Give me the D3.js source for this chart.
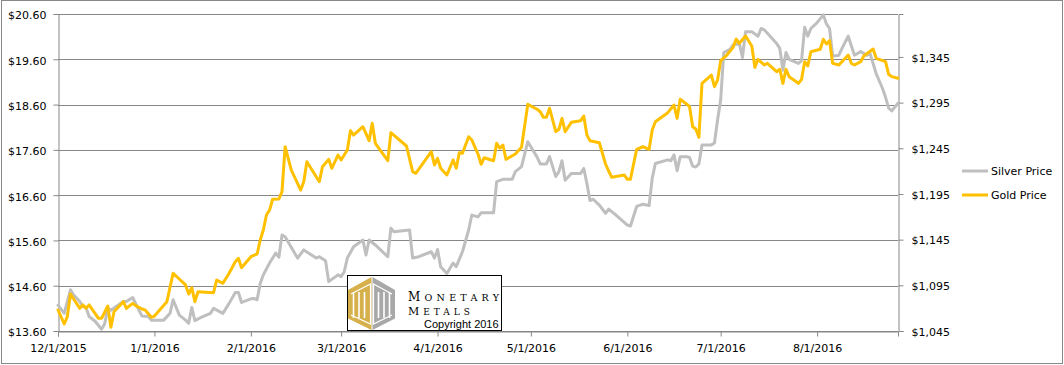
<!DOCTYPE html>
<html>
<head>
<meta charset="utf-8">
<script src="https://cdn.jsdelivr.net/npm/d3@7"></script>
<style>
  html, body { margin: 0; padding: 0; background: #fff; }
  svg { display: block; }
  text { font-family: "DejaVu Sans", Verdana, sans-serif; font-size: 11px; fill: #000; }
</style>
</head>
<body>
<svg id="chart" width="1064" height="365"></svg>
<script>
// ---------------- DATA ----------------
const silverDates = ["2015-12-01","2015-12-03","2015-12-05","2015-12-06","2015-12-08","2015-12-09","2015-12-10","2015-12-11","2015-12-13","2015-12-15","2015-12-16","2015-12-17","2015-12-18","2015-12-22","2015-12-23","2015-12-25","2015-12-26","2015-12-28","2015-12-30","2015-12-31",
"2016-01-04","2016-01-06","2016-01-07","2016-01-09","2016-01-11","2016-01-12","2016-01-13","2016-01-14","2016-01-16","2016-01-19","2016-01-20","2016-01-23","2016-01-25","2016-01-27","2016-01-28","2016-01-29",
"2016-02-01","2016-02-02","2016-02-03","2016-02-04","2016-02-05","2016-02-07","2016-02-09","2016-02-10","2016-02-11","2016-02-12","2016-02-16","2016-02-18","2016-02-22","2016-02-23","2016-02-25","2016-02-26","2016-02-29",
"2016-03-01","2016-03-02","2016-03-03","2016-03-05","2016-03-08","2016-03-09","2016-03-10","2016-03-12","2016-03-16","2016-03-17","2016-03-18","2016-03-23","2016-03-24","2016-03-26","2016-03-30","2016-03-31",
"2016-04-01","2016-04-02","2016-04-04","2016-04-06","2016-04-07","2016-04-09","2016-04-11","2016-04-12","2016-04-14","2016-04-15","2016-04-19","2016-04-20","2016-04-22","2016-04-25","2016-04-26","2016-04-28","2016-04-30",
"2016-05-03","2016-05-04","2016-05-06","2016-05-07","2016-05-09","2016-05-10","2016-05-11","2016-05-12","2016-05-14","2016-05-17","2016-05-18","2016-05-19","2016-05-20","2016-05-21","2016-05-23","2016-05-25","2016-05-26","2016-05-28",
"2016-06-01","2016-06-02","2016-06-04","2016-06-06","2016-06-08","2016-06-09","2016-06-10","2016-06-14","2016-06-15","2016-06-16","2016-06-17","2016-06-18","2016-06-20","2016-06-21","2016-06-22","2016-06-23","2016-06-24","2016-06-25","2016-06-28","2016-06-29","2016-06-30",
"2016-07-01","2016-07-02","2016-07-04","2016-07-05","2016-07-07","2016-07-08","2016-07-09","2016-07-11","2016-07-13","2016-07-14","2016-07-15","2016-07-19","2016-07-20","2016-07-21","2016-07-22","2016-07-23","2016-07-26","2016-07-27","2016-07-28","2016-07-29","2016-07-30",
"2016-08-01","2016-08-03","2016-08-04","2016-08-05","2016-08-06","2016-08-08","2016-08-09","2016-08-11","2016-08-13","2016-08-15","2016-08-17","2016-08-18","2016-08-20","2016-08-22","2016-08-23","2016-08-24","2016-08-25","2016-08-27"];
const silverPrices = [14.17,13.99,14.51,14.40,14.25,14.14,14.12,13.92,13.81,13.64,13.76,14.10,14.06,14.25,14.25,14.34,14.20,13.93,13.92,13.84,
13.84,13.99,14.29,13.95,13.84,13.77,14.12,13.83,13.90,13.99,14.10,13.99,14.21,14.45,14.45,14.23,
14.31,14.32,14.29,14.65,14.84,15.10,15.32,15.23,15.72,15.68,15.21,15.39,15.21,15.24,15.15,14.69,14.84,
14.80,14.91,15.21,15.46,15.61,15.28,15.61,15.50,15.24,15.87,15.79,15.83,15.21,15.24,15.35,15.21,
15.40,15.02,14.87,15.10,15.02,15.35,15.83,16.16,16.12,16.21,16.21,16.90,16.95,16.95,17.12,17.23,17.78,
17.44,17.29,17.29,17.45,17.01,17.12,17.36,16.93,17.08,17.08,17.19,16.86,16.48,16.51,16.38,16.20,16.29,16.18,
15.94,15.92,16.35,16.40,16.37,16.97,17.30,17.38,17.36,17.49,17.14,17.45,17.45,17.43,17.24,17.22,17.29,17.71,17.71,17.75,18.26,
18.70,19.75,19.82,19.92,19.95,19.64,20.21,20.21,20.11,20.28,20.25,19.95,19.84,19.36,19.75,19.60,19.51,19.57,20.31,20.11,20.28,
20.41,20.58,20.38,20.28,19.67,19.69,19.84,20.11,19.69,19.77,19.69,19.73,19.28,18.96,18.76,18.52,18.46,18.63];

const goldDates = ["2015-12-01","2015-12-03","2015-12-04","2015-12-05","2015-12-08","2015-12-09","2015-12-10","2015-12-11","2015-12-14","2015-12-15","2015-12-17","2015-12-18","2015-12-19","2015-12-22","2015-12-23","2015-12-25","2015-12-26","2015-12-28","2015-12-29","2015-12-31",
"2016-01-01","2016-01-05","2016-01-07","2016-01-11","2016-01-12","2016-01-13","2016-01-14","2016-01-15","2016-01-20","2016-01-21","2016-01-23","2016-01-25","2016-01-27","2016-01-28","2016-01-29",
"2016-02-01","2016-02-03","2016-02-04","2016-02-05","2016-02-06","2016-02-07","2016-02-08","2016-02-10","2016-02-11","2016-02-12","2016-02-14","2016-02-17","2016-02-18","2016-02-19","2016-02-23","2016-02-24","2016-02-26","2016-02-27","2016-02-29",
"2016-03-01","2016-03-03","2016-03-04","2016-03-05","2016-03-08","2016-03-10","2016-03-11","2016-03-12","2016-03-16","2016-03-17","2016-03-22","2016-03-24","2016-03-25","2016-03-30","2016-03-31",
"2016-04-01","2016-04-02","2016-04-04","2016-04-06","2016-04-07","2016-04-08","2016-04-09","2016-04-11","2016-04-12","2016-04-14","2016-04-15","2016-04-16","2016-04-19","2016-04-20","2016-04-21","2016-04-22","2016-04-23","2016-04-26","2016-04-28","2016-04-30",
"2016-05-03","2016-05-04","2016-05-05","2016-05-06","2016-05-07","2016-05-09","2016-05-10","2016-05-11","2016-05-12","2016-05-14","2016-05-17","2016-05-18","2016-05-19","2016-05-20","2016-05-23","2016-05-25","2016-05-26","2016-05-27","2016-05-31",
"2016-06-01","2016-06-02","2016-06-04","2016-06-06","2016-06-08","2016-06-09","2016-06-10","2016-06-14","2016-06-16","2016-06-17","2016-06-18","2016-06-20","2016-06-21","2016-06-22","2016-06-23","2016-06-24","2016-06-25","2016-06-28","2016-06-29","2016-06-30",
"2016-07-01","2016-07-03","2016-07-05","2016-07-06","2016-07-07","2016-07-09","2016-07-11","2016-07-12","2016-07-13","2016-07-15","2016-07-16","2016-07-19","2016-07-20","2016-07-21","2016-07-22","2016-07-23","2016-07-26","2016-07-27","2016-07-28","2016-07-29","2016-07-30",
"2016-08-02","2016-08-03","2016-08-04","2016-08-05","2016-08-06","2016-08-08","2016-08-11","2016-08-12","2016-08-13","2016-08-15","2016-08-16","2016-08-19","2016-08-20","2016-08-23","2016-08-24","2016-08-25","2016-08-27"];
const goldPrices = [1068.0,1052.7,1060.7,1085.5,1069.8,1073.5,1069.8,1073.5,1058.9,1058.9,1072.4,1049.1,1066.1,1077.1,1069.8,1075.3,1072.7,1069.1,1068.0,1060.0,
1061.4,1077.1,1108.2,1095.4,1085.5,1092.4,1077.1,1088.0,1086.9,1100.8,1097.2,1108.2,1120.9,1124.6,1114.3,
1126.3,1129.3,1144.6,1155.6,1172.0,1177.4,1189.2,1189.5,1197.5,1246.7,1221.2,1199.3,1208.4,1230.3,1208.4,1224.8,1232.9,1223.1,1237.6,
1232.2,1243.1,1264.2,1259.5,1268.6,1253.3,1272.4,1250.5,1231.4,1262.1,1247.5,1219.4,1217.6,1241.3,1226.7,
1234.0,1223.1,1215.8,1232.2,1223.1,1240.2,1239.5,1257.7,1254.1,1238.7,1227.5,1234.7,1231.4,1250.5,1245.0,1248.6,1232.9,1238.7,1246.1,1293.1,
1287.7,1285.0,1278.9,1278.9,1288.8,1263.2,1265.8,1277.8,1263.2,1273.4,1275.2,1280.3,1259.5,1253.3,1251.1,1227.8,1220.1,1213.2,1215.8,
1211.1,1211.1,1243.9,1246.7,1243.9,1265.0,1274.1,1284.0,1292.4,1277.8,1298.6,1293.5,1290.5,1268.6,1266.1,1257.0,1316.1,1325.2,1312.4,1319.7,
1340.9,1347.1,1355.5,1364.6,1359.9,1367.9,1357.0,1333.6,1342.4,1336.2,1338.0,1328.8,1331.5,1316.1,1331.5,1323.4,1316.1,1320.5,1339.8,1335.1,1350.7,
1353.4,1364.3,1359.2,1362.8,1338.0,1336.2,1347.1,1338.0,1336.2,1339.8,1346.0,1353.7,1343.5,1339.8,1326.0,1323.4,1321.6];

const leftTicks = [13.6,14.6,15.6,16.6,17.6,18.6,19.6,20.6];
const rightTicks = [1045,1095,1145,1195,1245,1295,1345];
const monthTicks = ["2015-12-01","2016-01-01","2016-02-01","2016-03-01","2016-04-01","2016-05-01","2016-06-01","2016-07-01","2016-08-01"];
const seriesNames = ["Silver Price","Gold Price"];

// ---------------- CHART ----------------
const svg = d3.select("#chart");
const parse = d3.utcParse("%Y-%m-%d");
const L = 58, R = 898, T = 14, B = 331;

const x = d3.scaleUtc().domain([parse("2015-12-01"), parse("2016-08-27")]).range([L, R]);
const yL = d3.scaleLinear().domain([13.6, 20.6]).range([B, T]);
const yR = d3.scaleLinear().domain([1045, 1392]).range([B, T]);

const gridColor = "#878787";
const silverColor = "#BFBFBF";
const goldColor = "#FFC000";

// outer border
svg.append("rect").attr("x", 1.5).attr("y", 0.5).attr("width", 1061).attr("height", 363)
  .attr("fill", "#fff").attr("stroke", "#888").attr("stroke-width", 1);

// gridlines
svg.append("g").selectAll("line").data(leftTicks).join("line")
  .attr("x1", L).attr("x2", R)
  .attr("y1", d => Math.round(yL(d)) + 0.5).attr("y2", d => Math.round(yL(d)) + 0.5)
  .attr("stroke", gridColor).attr("stroke-width", 1);

// axes
const fmtL = d => "$" + d.toFixed(2);
const fmtR = d => "$" + d3.format(",")(d);

const gL = svg.append("g").attr("transform", `translate(${L + 0.5},0)`)
  .call(d3.axisLeft(yL).tickValues(leftTicks).tickFormat(fmtL).tickSize(5).tickPadding(7));
const gR = svg.append("g").attr("transform", `translate(${R + 0.5},0)`)
  .call(d3.axisRight(yR).tickValues(rightTicks).tickFormat(fmtR).tickSize(5).tickPadding(8));
const gX = svg.append("g").attr("transform", `translate(0,${B + 0.5})`)
  .call(d3.axisBottom(x).tickValues(monthTicks.map(parse)).tickFormat(d3.utcFormat("%-m/%-d/%Y")).tickSize(5).tickPadding(8));

[gL, gR, gX].forEach(g => {
  g.select(".domain").attr("stroke", gridColor);
  g.selectAll(".tick line").attr("stroke", gridColor);
  g.selectAll(".tick text").style("font-family", '"DejaVu Sans", Verdana, sans-serif').style("font-size", "11px").attr("fill", "#000");
});
gL.selectAll(".tick text").attr("dy", "0.45em");
gR.selectAll(".tick text").attr("dy", "0.38em");

// lines
const silverData = silverDates.map((d, i) => ({ date: parse(d), v: silverPrices[i] }));
const goldData = goldDates.map((d, i) => ({ date: parse(d), v: goldPrices[i] }));

svg.append("path").datum(silverData)
  .attr("fill", "none").attr("stroke", silverColor).attr("stroke-width", 3)
  .attr("stroke-linejoin", "round").attr("stroke-linecap", "round")
  .attr("d", d3.line().x(d => x(d.date)).y(d => yL(d.v)));

svg.append("path").datum(goldData)
  .attr("fill", "none").attr("stroke", goldColor).attr("stroke-width", 3)
  .attr("stroke-linejoin", "round").attr("stroke-linecap", "round")
  .attr("d", d3.line().x(d => x(d.date)).y(d => yR(d.v)));

// legend
const legend = svg.append("g");
[silverColor, goldColor].forEach((c, i) => {
  const yy = 171 + i * 24;
  legend.append("line").attr("x1", 962).attr("x2", 988).attr("y1", yy).attr("y2", yy)
    .attr("stroke", c).attr("stroke-width", 3);
  legend.append("text").attr("x", 991).attr("y", yy).attr("dy", "0.36em").text(seriesNames[i]);
});

// logo
const logo = svg.append("g");
logo.append("rect").attr("x", 347.5).attr("y", 275.5).attr("width", 154).attr("height", 55)
  .attr("fill", "#fff").attr("stroke", "#000").attr("stroke-width", 1);
const cx = 371.5;
logo.append("polygon").attr("points", `${cx},277 348,290 348,318.5 ${cx},330`).attr("fill", "#D6B04A");
logo.append("polygon").attr("points", `${cx+1},277 395,290 395,318.5 ${cx+1},330`).attr("fill", "#A8A8A8");
[353.5, 359, 364.5, 378.5, 384, 389.5].forEach(bx => {
  logo.append("line").attr("x1", bx).attr("x2", bx).attr("y1", 292).attr("y2", 318)
    .attr("stroke", "#fff").attr("stroke-width", 1.6);
});
logo.append("polyline").attr("points", `351,294 ${cx-1},284 ${cx-1},324 351,315`).attr("fill", "none").attr("stroke", "#fff").attr("stroke-width", 1.2);
logo.append("polyline").attr("points", `392,294 ${cx+2},284 ${cx+2},324 392,315`).attr("fill", "none").attr("stroke", "#fff").attr("stroke-width", 1.2);

logo.append("text").attr("x", 408).attr("y", 301)
  .attr("textLength", 91).attr("lengthAdjust", "spacing")
  .style("font-family", '"DejaVu Serif", "Liberation Serif", serif').style("font-size", "12px")
  .attr("fill", "#D4AA3C")
  .html('M<tspan style="font-size:9.5px">ONETARY</tspan>');
logo.append("text").attr("x", 408).attr("y", 314.5)
  .attr("textLength", 62).attr("lengthAdjust", "spacing")
  .style("font-family", '"DejaVu Serif", "Liberation Serif", serif').style("font-size", "11px")
  .attr("fill", "#9A9A9A")
  .html('M<tspan style="font-size:9px">ETALS</tspan>');
logo.append("text").attr("x", 424).attr("y", 327.5)
  .style("font-family", '"Liberation Sans", Arial, sans-serif').style("font-size", "11px")
  .attr("fill", "#000").text("Copyright 2016");
</script>
</body>
</html>
